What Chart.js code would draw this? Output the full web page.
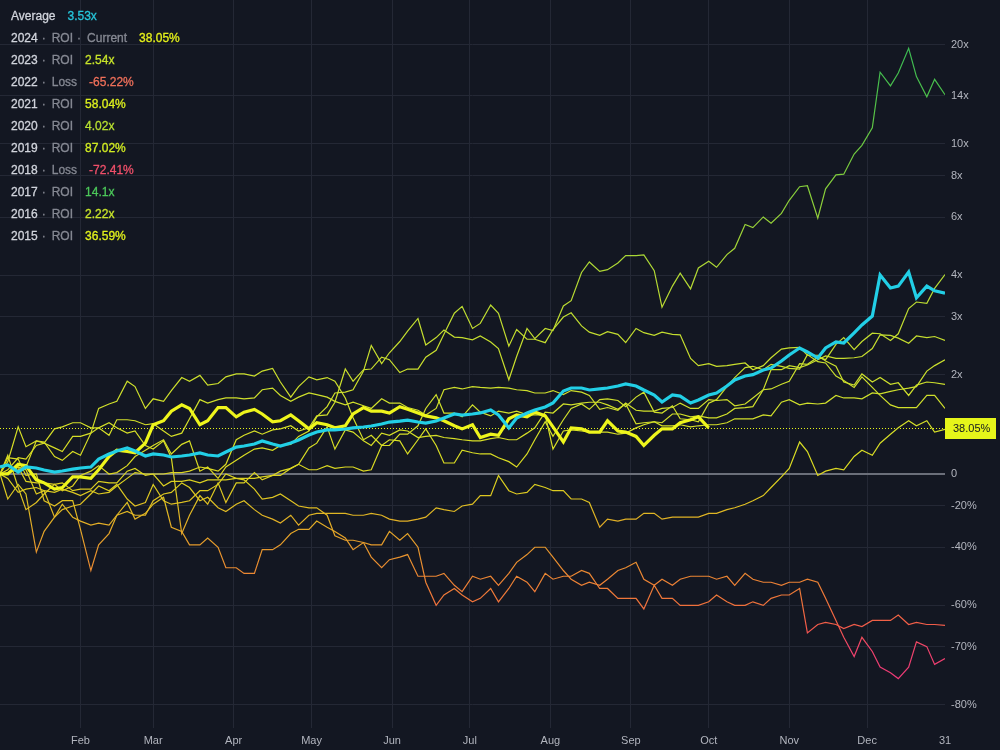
<!DOCTYPE html>
<html>
<head>
<meta charset="utf-8">
<script src="https://cdn.jsdelivr.net/npm/chart.js@4.4.1/dist/chart.umd.min.js"></script>
<style>
  body { margin: 0; background: #131722; }
  #wrap { position: relative; width: 1000px; height: 750px; }
  #legend { position: absolute; left: 11px; top: 5px; font: 12px 'Liberation Sans', Arial, sans-serif; color: #d1d4dc; -webkit-text-stroke: 0.3px currentColor; }
  #legend .row { height: 22px; line-height: 22px; white-space: nowrap; }
  #legend .kind { color: #868993; }
  #legend .dot { color: #868993; margin: 0 6px 0 4px; }
  #legend .val { margin-left: 12px; }
</style>
</head>
<body>
<div id="wrap">
  <canvas id="roiChart" width="1000" height="750"></canvas>
  <div id="legend"></div>
</div>
<script>
// Day of year for each sample (twice a week)
const days = [1, 4, 8, 11, 15, 18, 22, 25, 29, 32, 36, 39, 43, 46, 50, 53, 57, 60, 64, 67, 71, 74, 78, 81, 85, 88, 92, 95, 99, 102,
  106, 109, 113, 116, 120, 123, 127, 130, 134, 137, 141, 144, 148, 151, 155, 158, 162, 165, 169, 172, 176, 179, 183, 186, 190, 193,
  197, 200, 204, 207, 211, 214, 218, 221, 225, 228, 232, 235, 239, 242, 246, 249, 253, 256, 260, 263, 267, 270, 274, 277, 281, 284,
  288, 291, 295, 298, 302, 305, 309, 312, 316, 319, 323, 326, 330, 333, 337, 340, 344, 347, 351, 354, 358, 361, 365];

// Value as multiple of the Jan 1 price (1 = 0%)
const y2015 = [1.0, 0.84, 0.93, 0.87, 0.58, 0.67, 0.74, 0.81, 0.74, 0.72, 0.70, 0.71, 0.70, 0.75, 0.77, 0.75, 0.75, 0.83, 0.87, 0.88,
  0.94, 0.91, 0.83, 0.85, 0.79, 0.77, 0.81, 0.83, 0.78, 0.75, 0.73, 0.71, 0.75, 0.70, 0.75, 0.76, 0.76, 0.76, 0.76, 0.75,
  0.75, 0.76, 0.75, 0.73, 0.72, 0.72, 0.73, 0.74, 0.79, 0.78, 0.77, 0.80, 0.81, 0.86, 0.86, 0.99, 0.89, 0.87, 0.88, 0.93,
  0.91, 0.89, 0.89, 0.84, 0.84, 0.82, 0.69, 0.73, 0.72, 0.73, 0.73, 0.76, 0.76, 0.73, 0.74, 0.74, 0.74, 0.74, 0.76, 0.76,
  0.78, 0.79, 0.81, 0.83, 0.86, 0.91, 0.98, 1.04, 1.25, 1.17, 0.99, 1.02, 1.04, 1.03, 1.13, 1.18, 1.14, 1.24, 1.32, 1.38,
  1.45, 1.40, 1.45, 1.34, 1.366];
const y2016 = [1.0, 1.0, 1.05, 1.03, 0.87, 0.89, 0.88, 0.90, 0.88, 0.86, 0.89, 0.87, 0.88, 0.92, 0.97, 1.01, 1.0, 1.0, 0.92, 0.95,
  0.95, 0.96, 0.94, 0.96, 0.96, 0.96, 0.97, 0.97, 0.97, 0.98, 0.99, 1.02, 1.04, 1.07, 1.03, 1.03, 1.06, 1.04, 1.05, 1.05,
  1.02, 1.03, 1.22, 1.22, 1.32, 1.32, 1.40, 1.58, 1.74, 1.53, 1.53, 1.49, 1.62, 1.54, 1.50, 1.55, 1.53, 1.55, 1.51, 1.51,
  1.51, 1.19, 1.35, 1.36, 1.35, 1.34, 1.34, 1.34, 1.32, 1.33, 1.38, 1.41, 1.44, 1.40, 1.40, 1.41, 1.39, 1.40, 1.41, 1.41,
  1.43, 1.47, 1.47, 1.47, 1.51, 1.50, 1.65, 1.68, 1.62, 1.64, 1.63, 1.64, 1.73, 1.70, 1.70, 1.69, 1.76, 1.75, 1.78, 1.80,
  1.82, 1.84, 2.05, 2.13, 2.22];
const y2017 = [1.0, 1.14, 0.91, 0.78, 0.82, 0.87, 0.93, 0.89, 0.92, 0.99, 1.02, 1.06, 1.0, 1.01, 1.06, 1.13, 1.18, 1.22, 1.27, 1.15,
  1.23, 1.26, 1.02, 1.05, 0.97, 1.05, 1.10, 1.14, 1.19, 1.20, 1.18, 1.22, 1.23, 1.30, 1.35, 1.49, 1.60, 1.76, 1.77, 1.80,
  2.05, 2.45, 2.16, 2.33, 2.52, 2.71, 2.96, 2.46, 2.59, 2.73, 2.60, 2.59, 2.55, 2.62, 2.51, 2.40, 1.93, 2.27, 2.76, 2.57,
  2.76, 2.72, 3.23, 3.35, 4.08, 4.39, 4.11, 4.16, 4.36, 4.59, 4.59, 4.61, 4.13, 3.20, 3.71, 4.06, 3.64, 4.21, 4.41, 4.23,
  4.62, 4.83, 5.70, 5.58, 6.01, 5.75, 6.16, 6.75, 7.42, 7.47, 5.96, 7.31, 8.06, 8.10, 9.32, 9.90, 11.2, 16.5, 15.0, 16.4,
  19.5, 16.0, 13.9, 15.7, 14.1];
const y2018 = [1.0, 1.12, 1.11, 0.99, 1.0, 0.83, 0.80, 0.83, 0.83, 0.68, 0.51, 0.61, 0.66, 0.75, 0.82, 0.73, 0.76, 0.81, 0.85, 0.69,
  0.67, 0.61, 0.61, 0.64, 0.60, 0.52, 0.52, 0.50, 0.50, 0.59, 0.59, 0.61, 0.66, 0.68, 0.68, 0.72, 0.69, 0.67, 0.64, 0.59,
  0.62, 0.56, 0.52, 0.55, 0.56, 0.57, 0.49, 0.49, 0.49, 0.50, 0.46, 0.44, 0.49, 0.48, 0.49, 0.46, 0.50, 0.54, 0.57, 0.60,
  0.60, 0.56, 0.51, 0.48, 0.46, 0.47, 0.46, 0.48, 0.51, 0.52, 0.54, 0.48, 0.46, 0.48, 0.46, 0.48, 0.49, 0.49, 0.49, 0.48,
  0.49, 0.46, 0.50, 0.48, 0.47, 0.47, 0.46, 0.47, 0.47, 0.48, 0.47, 0.42, 0.36, 0.32, 0.28, 0.32, 0.29, 0.26, 0.25, 0.24,
  0.26, 0.31, 0.30, 0.265, 0.276];
const y2019 = [1.0, 1.0, 1.05, 0.95, 0.94, 0.94, 0.93, 0.94, 0.89, 0.90, 0.90, 0.95, 0.94, 0.94, 1.02, 1.04, 0.99, 1.0, 1.0, 1.01,
  1.01, 1.02, 1.05, 1.04, 1.02, 1.07, 1.27, 1.31, 1.35, 1.32, 1.36, 1.37, 1.40, 1.35, 1.38, 1.50, 1.51, 1.65, 2.08, 1.91,
  2.07, 2.08, 2.26, 2.22, 2.03, 2.08, 2.08, 2.26, 2.37, 2.65, 3.07, 3.22, 2.76, 2.86, 3.25, 3.07, 2.44, 2.74, 2.56, 2.56,
  2.50, 2.74, 2.99, 3.08, 2.81, 2.69, 2.63, 2.70, 2.65, 2.50, 2.76, 2.68, 2.63, 2.69, 2.65, 2.64, 2.24, 2.13, 2.16, 2.12,
  2.13, 2.15, 2.17, 2.07, 2.13, 2.25, 2.39, 2.41, 2.42, 2.29, 2.29, 2.20, 2.12, 1.90, 1.86, 2.01, 1.90, 1.96, 1.87, 1.89,
  1.73, 1.86, 1.90, 1.89, 1.87];
const y2020 = [1.0, 1.03, 1.12, 1.11, 1.22, 1.24, 1.20, 1.17, 1.30, 1.30, 1.33, 1.38, 1.43, 1.38, 1.33, 1.35, 1.22, 1.19, 1.26, 1.12,
  0.66, 0.75, 0.86, 0.81, 0.94, 0.82, 0.94, 0.94, 1.01, 0.96, 0.99, 0.99, 1.04, 1.07, 1.20, 1.24, 1.39, 1.19, 1.36, 1.34,
  1.26, 1.22, 1.33, 1.31, 1.36, 1.35, 1.29, 1.30, 1.31, 1.29, 1.28, 1.27, 1.26, 1.26, 1.28, 1.29, 1.27, 1.27, 1.33, 1.38,
  1.54, 1.53, 1.63, 1.62, 1.64, 1.65, 1.65, 1.62, 1.57, 1.63, 1.42, 1.43, 1.44, 1.43, 1.52, 1.52, 1.49, 1.50, 1.48, 1.48,
  1.52, 1.58, 1.59, 1.60, 1.80, 1.81, 1.87, 1.91, 2.16, 2.15, 2.26, 2.22, 2.47, 2.59, 2.38, 2.52, 2.67, 2.66, 2.54, 2.66,
  3.17, 3.32, 3.29, 3.65, 4.02];
const y2021 = [1.0, 1.09, 1.39, 1.21, 1.26, 1.25, 1.13, 1.10, 1.17, 1.14, 1.33, 1.58, 1.63, 1.66, 1.91, 1.84, 1.58, 1.69, 1.66, 1.79,
  1.96, 1.91, 1.99, 1.86, 1.88, 1.97, 2.01, 2.01, 1.98, 2.05, 2.09, 1.90, 1.71, 1.84, 1.97, 1.93, 1.96, 1.91, 1.70, 1.48,
  1.27, 1.31, 1.22, 1.27, 1.26, 1.15, 1.27, 1.37, 1.22, 1.08, 1.08, 1.18, 1.16, 1.15, 1.15, 1.12, 1.09, 1.05, 1.15, 1.27,
  1.44, 1.30, 1.46, 1.58, 1.63, 1.57, 1.68, 1.69, 1.67, 1.60, 1.71, 1.77, 1.54, 1.53, 1.61, 1.47, 1.46, 1.44, 1.64, 1.68,
  1.84, 1.96, 2.10, 2.12, 2.07, 2.15, 2.12, 2.09, 2.08, 2.30, 2.19, 2.17, 1.98, 1.92, 1.83, 1.97, 1.83, 1.73, 1.62, 1.59,
  1.59, 1.59, 1.73, 1.73, 1.58];
const y2022 = [1.0, 0.97, 0.88, 0.90, 0.91, 0.89, 0.74, 0.78, 0.80, 0.81, 0.87, 0.92, 0.89, 0.93, 0.84, 0.80, 0.82, 0.93, 0.83, 0.81,
  0.82, 0.83, 0.89, 0.89, 0.93, 1.0, 0.97, 0.96, 0.90, 0.84, 0.85, 0.87, 0.83, 0.80, 0.79, 0.79, 0.75, 0.65, 0.63, 0.63,
  0.62, 0.61, 0.61, 0.67, 0.63, 0.66, 0.60, 0.47, 0.40, 0.43, 0.45, 0.43, 0.41, 0.42, 0.45, 0.41, 0.45, 0.49, 0.47, 0.44,
  0.50, 0.48, 0.49, 0.49, 0.51, 0.50, 0.45, 0.45, 0.42, 0.42, 0.42, 0.39, 0.46, 0.42, 0.42, 0.40, 0.40, 0.40, 0.41, 0.43,
  0.41, 0.40, 0.40, 0.41, 0.40, 0.42, 0.43, 0.43, 0.45, 0.33, 0.35, 0.355, 0.35, 0.34, 0.35, 0.345, 0.36, 0.36, 0.36, 0.374,
  0.35, 0.355, 0.35, 0.35, 0.348];
const y2023 = [1.0, 1.01, 1.03, 1.05, 1.26, 1.24, 1.37, 1.39, 1.43, 1.43, 1.38, 1.38, 1.31, 1.46, 1.46, 1.45, 1.41, 1.42, 1.35, 1.30,
  1.33, 1.47, 1.68, 1.64, 1.68, 1.70, 1.70, 1.69, 1.70, 1.80, 1.82, 1.73, 1.66, 1.71, 1.76, 1.74, 1.71, 1.66, 1.62, 1.65,
  1.61, 1.58, 1.69, 1.64, 1.64, 1.59, 1.56, 1.51, 1.58, 1.80, 1.83, 1.81, 1.84, 1.83, 1.82, 1.83, 1.82, 1.80, 1.79, 1.76,
  1.76, 1.79, 1.74, 1.79, 1.77, 1.73, 1.57, 1.59, 1.56, 1.64, 1.56, 1.55, 1.55, 1.58, 1.59, 1.64, 1.58, 1.58, 1.68, 1.67,
  1.68, 1.61, 1.63, 1.70, 1.80, 2.07, 2.07, 2.13, 2.10, 2.14, 2.22, 2.28, 2.24, 2.24, 2.25, 2.27, 2.40, 2.64, 2.63, 2.58,
  2.49, 2.62, 2.59, 2.61, 2.54];
// current year stops at Oct 1
const y2024 = [1.0, 1.0, 1.07, 1.06, 0.96, 0.94, 0.90, 0.91, 0.98, 0.98, 0.97, 1.03, 1.13, 1.18, 1.17, 1.16, 1.24, 1.41, 1.45, 1.55,
  1.62, 1.58, 1.41, 1.45, 1.59, 1.59, 1.49, 1.54, 1.57, 1.52, 1.44, 1.45, 1.51, 1.45, 1.37, 1.43, 1.41, 1.38, 1.40, 1.52,
  1.59, 1.55, 1.55, 1.53, 1.60, 1.57, 1.53, 1.50, 1.48, 1.45, 1.40, 1.37, 1.41, 1.29, 1.32, 1.31, 1.47, 1.51, 1.49, 1.54,
  1.50, 1.39, 1.25, 1.38, 1.37, 1.34, 1.34, 1.45, 1.35, 1.34, 1.30, 1.22, 1.31, 1.37, 1.37, 1.43, 1.46, 1.49, 1.3805];
const yAverage = [1.05, 1.065, 1.014, 1.05, 1.043, 1.028, 1.014, 1.021, 1.035, 1.043, 1.05, 1.11, 1.15, 1.174, 1.199, 1.174, 1.134, 1.15, 1.142, 1.126,
  1.134, 1.142, 1.158, 1.142, 1.134, 1.166, 1.207, 1.216, 1.233, 1.259, 1.233, 1.216, 1.241, 1.268, 1.313, 1.341, 1.36, 1.36, 1.369, 1.379,
  1.388, 1.398, 1.417, 1.437, 1.447, 1.457, 1.437, 1.427, 1.447, 1.478, 1.52, 1.509, 1.52, 1.531, 1.563, 1.509, 1.379, 1.478, 1.531, 1.563,
  1.596, 1.641, 1.784, 1.822, 1.822, 1.797, 1.81, 1.822, 1.848, 1.874, 1.848, 1.797, 1.735, 1.652, 1.735, 1.722, 1.641, 1.676, 1.735, 1.76,
  1.848, 1.927, 1.981, 2.0, 2.066, 2.095, 2.2, 2.294, 2.409, 2.343, 2.246, 2.409, 2.512, 2.494, 2.675, 2.828, 3.01, 4.01, 3.66, 3.71,
  4.09, 3.42, 3.71, 3.59, 3.53];

const pastYears = [y2015, y2016, y2017, y2018, y2019, y2020, y2021, y2022, y2023];
const currentRoi = 1.3805;
const currentLabel = '38.05%';

// Axis ticks
const monthDays = [32, 60, 91, 121, 152, 182, 213, 244, 274, 305, 335, 365];
const monthLabels = ['Feb', 'Mar', 'Apr', 'May', 'Jun', 'Jul', 'Aug', 'Sep', 'Oct', 'Nov', 'Dec', '31'];
const yTicks = [0.2, 0.3, 0.4, 0.6, 0.8, 1, 2, 3, 4, 6, 8, 10, 14, 20];

// Legend
const legendNames = ['Average', '2024', '2023', '2022', '2021', '2020', '2019', '2018', '2017', '2016', '2015'];
const legendKinds = ['', 'ROI · Current', 'ROI', 'Loss', 'ROI', 'ROI', 'ROI', 'Loss', 'ROI', 'ROI', 'ROI'];
const legendValues = ['3.53x', '38.05%', '2.54x', '-65.22%', '58.04%', '4.02x', '87.02%', '-72.41%', '14.1x', '2.22x', '36.59%'];
const legendColors = ['#26c6da', '#e4f01a', '#c6e22a', '#f0705a', '#dcef1e', '#b8e030', '#d2ec22', '#f0506a', '#4cc85a', '#c8e42a', '#e0f01c'];

// line colour follows the value (green high, red low)
const colorStops = [[25, '#2fb35a'], [14, '#4cc04a'], [8, '#7fcc3c'], [4, '#b3d934'], [2.5, '#c6de2e'], [1.5, '#d2e02a'],
  [1.1, '#dadc22'], [0.9, '#dccc20'], [0.75, '#e0b424'], [0.6, '#e6982c'], [0.48, '#ec8434'], [0.4, '#f0703c'],
  [0.34, '#f2584c'], [0.3, '#f0446a'], [0.22, '#e8347c']];

function valueGradient(context) {
    const chart = context.chart;
    const { ctx, chartArea, scales } = chart;
    if (!chartArea || !scales.y) return '#d8d820';
    const h = chartArea.bottom - chartArea.top;
    if (chart._grad && chart._gradH === h) return chart._grad;
    const g = ctx.createLinearGradient(0, chartArea.top, 0, chartArea.bottom);
    colorStops.forEach(function(s) {
        const p = (scales.y.getPixelForValue(s[0]) - chartArea.top) / h;
        g.addColorStop(Math.min(1, Math.max(0, p)), s[1]);
    });
    chart._grad = g;
    chart._gradH = h;
    return g;
}

function toPoints(vals) {
    return vals.map((v, i) => ({ x: days[i], y: v }));
}

const datasets = pastYears.map((vals, i) => ({
    label: String(2015 + i),
    data: toPoints(vals),
    borderColor: valueGradient,
    borderWidth: 1.2,
    order: 2
}));
datasets.push({ label: '2024', data: toPoints(y2024), borderColor: '#eef51c', borderWidth: 3.2, order: 1 });
datasets.push({ label: 'Average', data: toPoints(yAverage), borderColor: '#22cfe6', borderWidth: 3.2, order: 0 });

const currentLine = {
    id: 'currentLine',
    beforeDatasetsDraw(chart) {
        const { ctx, chartArea, scales } = chart;
        const y = Math.round(scales.y.getPixelForValue(currentRoi)) + 0.5;
        ctx.save();
        ctx.strokeStyle = '#e6f51a';
        ctx.lineWidth = 1;
        ctx.setLineDash([1, 2]);
        ctx.beginPath();
        ctx.moveTo(chartArea.left, y);
        ctx.lineTo(chartArea.right, y);
        ctx.stroke();
        ctx.restore();
    },
    afterDraw(chart) {
        const { ctx, chartArea, scales } = chart;
        const y = Math.round(scales.y.getPixelForValue(currentRoi));
        ctx.save();
        ctx.fillStyle = '#e6f51a';
        ctx.fillRect(chartArea.right, y - 10, 51, 21);
        ctx.fillStyle = '#131722';
        ctx.font = "11px 'Liberation Sans', Arial, sans-serif";
        ctx.textBaseline = 'middle';
        ctx.fillText(currentLabel, chartArea.right + 8, y + 1);
        ctx.restore();
    }
};

Chart.defaults.font.family = "'Liberation Sans', Arial, sans-serif";
Chart.defaults.font.size = 11;
Chart.defaults.color = '#b2b5be';

new Chart(document.getElementById('roiChart'), {
    type: 'line',
    data: { datasets: datasets },
    options: {
        responsive: false,
        animation: false,
        layout: { padding: 0 },
        elements: { point: { radius: 0 }, line: { tension: 0 } },
        plugins: { legend: { display: false }, tooltip: { enabled: false } },
        scales: {
            x: {
                type: 'linear',
                min: 1,
                max: 365,
                afterBuildTicks: axis => { axis.ticks = monthDays.map(v => ({ value: v })); },
                afterFit: axis => { axis.height = 22; axis.paddingLeft = 0; axis.paddingRight = 0; },
                ticks: { autoSkip: false, maxRotation: 0, padding: 6, callback: (v, i) => monthLabels[i] },
                grid: { drawTicks: false, color: c => (c.tick && c.tick.value === 365) ? 'rgba(0,0,0,0)' : '#242835' },
                border: { display: false }
            },
            y: {
                type: 'logarithmic',
                position: 'right',
                min: 0.17,
                max: 27.3,
                afterBuildTicks: axis => { axis.ticks = yTicks.map(v => ({ value: v })); },
                afterFit: axis => { axis.width = 55; axis.paddingTop = 0; axis.paddingBottom = 0; },
                ticks: {
                    padding: 6,
                    crossAlign: 'near',
                    callback: v => v >= 2 ? v + 'x' : (v === 1 ? '0' : Math.round((v - 1) * 100) + '%')
                },
                grid: {
                    drawTicks: false,
                    color: c => (c.tick && c.tick.value === 1) ? '#6b6f7a' : '#242835',
                    lineWidth: c => (c.tick && c.tick.value === 1) ? 2 : 1
                },
                border: { display: false }
            }
        }
    },
    plugins: [currentLine]
});

// legend rows
const legendEl = document.getElementById('legend');
legendNames.forEach((name, i) => {
    const row = document.createElement('div');
    row.className = 'row';
    let html = '<span>' + name + '</span>';
    if (legendKinds[i]) {
        legendKinds[i].split(' · ').forEach(k => {
            html += '<span class="dot">·</span><span class="kind">' + k + '</span>';
        });
    }
    html += '<span class="val" style="color:' + legendColors[i] + '">' + legendValues[i] + '</span>';
    row.innerHTML = html;
    legendEl.appendChild(row);
});
</script>
</body>
</html>
